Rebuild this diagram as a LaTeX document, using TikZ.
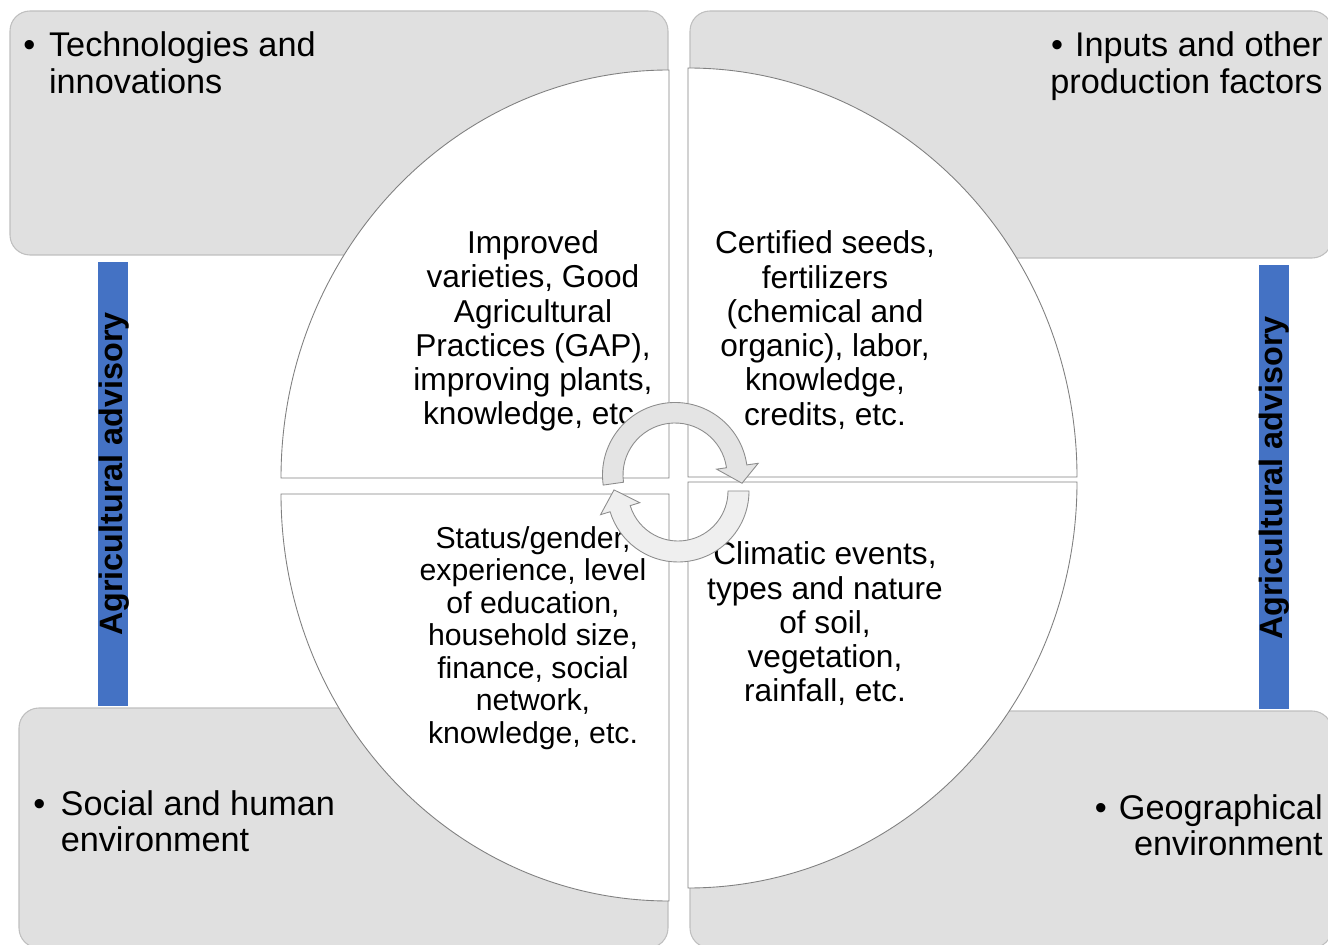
\documentclass[tikz,border=0pt]{standalone}
\usepackage{fontspec}
\setmainfont{Liberation Sans}
\usepackage{xcolor}
\usetikzlibrary{positioning,calc}

\definecolor{boxgray}{HTML}{E0E0E0}
\definecolor{boxedge}{HTML}{BFBFBF}
\definecolor{quartedge}{HTML}{808080}
\definecolor{advblue}{HTML}{4472C4}
\definecolor{cyclefill}{HTML}{E4E4E4}
\definecolor{cyclefill2}{HTML}{EFEFEF}

\begin{document}
\begin{tikzpicture}[
  x=0.02cm, y=0.02cm,
  outerbox/.style={draw=boxedge, fill=boxgray, line width=0.6pt, rounded corners=0.4cm},
  quarter/.style={draw=quartedge, fill=white, line width=0.5pt},
  content/.style={align=center, inner sep=0pt, font=\fontsize{18}{19.5}\selectfont},
  factor/.style={inner sep=0pt, font=\fontsize{19.5}{20.5}\selectfont},
  advbar/.style={fill=advblue},
  advtext/.style={rotate=90, anchor=base, inner sep=0pt, font=\fontsize{18.4}{20}\selectfont\bfseries},
  cyclearrow/.style={draw=quartedge!90, line width=0.5pt},
]

\useasboundingbox (0,0) rectangle (1328,944);

% Outer factor boxes
\draw[outerbox] (10,689) rectangle (668,933);
\draw[outerbox] (690,686) rectangle (1332,933);
\draw[outerbox] (19,-4) rectangle (668,236);
\draw[outerbox] (690,-4) rectangle (1332,233);

% Quarter discs
\draw[quarter] (669,466) -- (281,466) arc[start angle=180, end angle=90, x radius=388, y radius=408] -- cycle;
\draw[quarter] (688,467) -- (688,876) arc[start angle=90, end angle=0, x radius=389, y radius=409] -- cycle;
\draw[quarter] (669,450) -- (281,450) arc[start angle=180, end angle=270, x radius=388, y radius=407] -- cycle;
\draw[quarter] (688,462) -- (1077,462) arc[start angle=0, end angle=-90, x radius=389, y radius=406] -- cycle;

% Quarter texts
\node[content] (tech) at (533,613) {Improved\\varieties, Good\\Agricultural\\Practices (GAP),\\improving plants,\\knowledge, etc.};
\node[content] (inputs) at (825,614) {Certified seeds,\\fertilizers\\(chemical and\\organic), labor,\\knowledge,\\credits, etc.};
\node[content, font=\fontsize{17.2}{18.5}\selectfont] (social) at (533,306) {Status/gender,\\experience, level\\of education,\\household size,\\finance, social\\network,\\knowledge, etc.};
\node[content] (geo) at (825,320) {Climatic events,\\types and nature\\of soil,\\vegetation,\\rainfall, etc.};

% Factor labels
\node[factor, anchor=base west] (techlbl) at (23,887)
  {\textbullet\hspace{0.4em}\begin{tabular}[t]{@{}l@{}}Technologies and\\innovations\end{tabular}};
\node[factor, anchor=base east] (inputslbl) at (1323,887)
  {\begin{tabular}[t]{@{}r@{}}\textbullet\hspace{0.35em}Inputs and other\\production factors\end{tabular}};
\node[factor, anchor=base west] (sociallbl) at (33,129)
  {\textbullet\hspace{0.45em}\begin{tabular}[t]{@{}l@{}}Social and human\\environment\end{tabular}};
\node[factor, anchor=base east] (geolbl) at (1323,125)
  {\begin{tabular}[t]{@{}r@{}}\textbullet\hspace{0.35em}Geographical\\environment\end{tabular}};

% Advisory bars
\fill[advbar] (98,238) rectangle (128,682);
\fill[advbar] (1259,235) rectangle (1289,679);
\node[advtext] (advleft) at (122,470) {Agricultural advisory};
\node[advtext] (advright) at (1282,466) {Agricultural advisory};

% Cycle arrows
\begin{scope}[shift={(675,469)}]
  \draw[cyclearrow, fill=cyclefill] (188:72.5) arc[start angle=188, end angle=8, radius=72.5]
    -- (8:84) -- (-7:67.5) -- (8:42) -- (8:52) arc[start angle=8, end angle=188, radius=52] -- cycle;
\end{scope}
\begin{scope}[shift={(678,453)}]
  \draw[cyclearrow, fill=cyclefill2] (0:71) arc[start angle=0, end angle=-163, radius=71]
    -- (-163:81) -- (-181:64) -- (-163:40) -- (-163:50) arc[start angle=-163, end angle=0, radius=50] -- cycle;
\end{scope}

\end{tikzpicture}
\end{document}
